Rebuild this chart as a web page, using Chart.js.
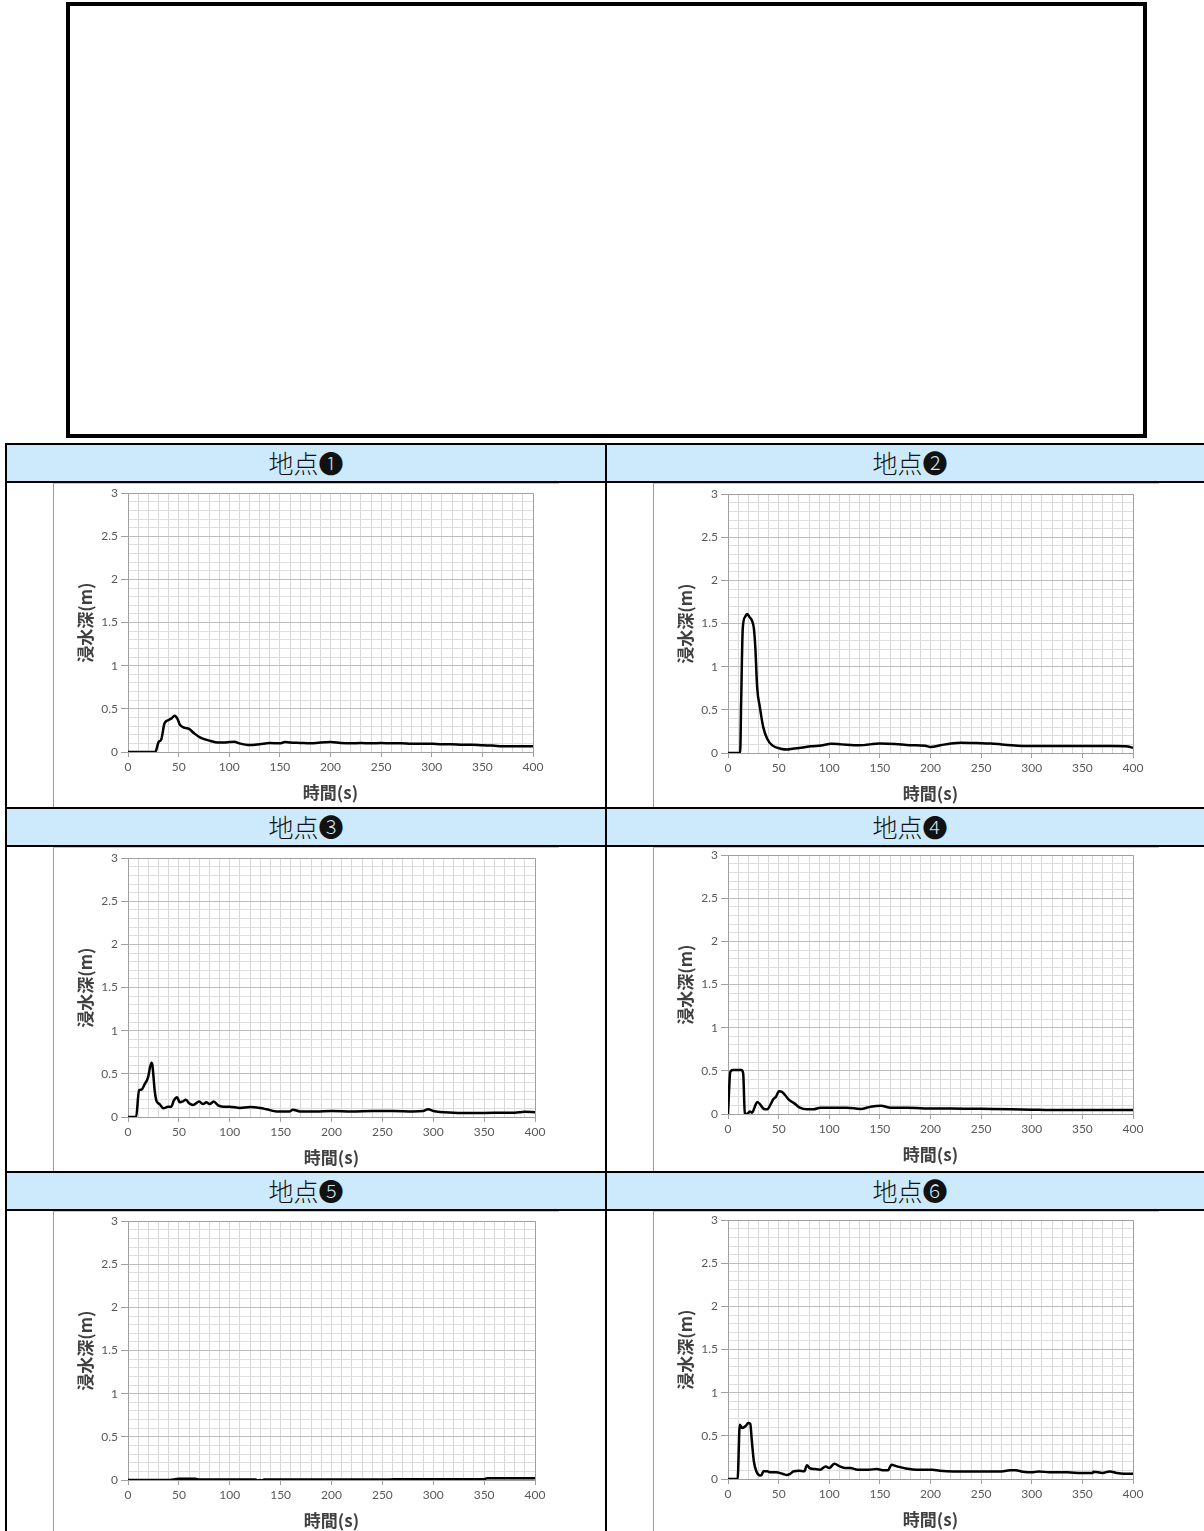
<!DOCTYPE html>
<html lang="ja">
<head>
<meta charset="utf-8">
<script src="https://cdn.jsdelivr.net/npm/chart.js@4.4.0/dist/chart.umd.min.js"></script>
<style>
body{margin:0;background:#fff;width:1204px;height:1531px;overflow:hidden;position:relative;font-family:"Noto Sans CJK JP",sans-serif}
.box{position:absolute;left:66px;top:2px;width:1081px;height:436px;border:4px solid #000;box-sizing:border-box}
.hd{position:absolute;height:40px;background:#cdeafc;border:2px solid #000;box-sizing:border-box;text-align:center;font-size:25px;font-weight:300;line-height:35px;color:#111}
.cell{position:absolute;height:328px;border:2px solid #000;box-sizing:border-box;background:#fff}
.pic{position:absolute;width:506px;height:325px;border-left:1px solid #9a9a9a;border-top:1px solid #c8c8c8;box-sizing:border-box}
canvas{position:absolute}
</style>
</head>
<body>
<div class="box"></div>
<div id="table"></div>

<script>
// 地点ごとの浸水深 (time s / depth m)
const pointNames = ["地点❶", "地点❷", "地点❸", "地点❹", "地点❺", "地点❻"];

const p1Time = [0,27,30,33,36,40,43,46,49,51,56,60,65,71,81,89,95,100,105,110,120,130,140,150,155,160,170,180,190,200,210,220,230,240,250,260,270,280,290,300,310,320,330,340,350,360,370,380,390,400];
const p1Depth = [0,0,0.11,0.15,0.33,0.37,0.39,0.42,0.38,0.32,0.28,0.27,0.22,0.17,0.13,0.11,0.11,0.115,0.12,0.10,0.08,0.09,0.105,0.10,0.115,0.11,0.105,0.10,0.11,0.115,0.105,0.10,0.105,0.10,0.105,0.10,0.10,0.095,0.095,0.097,0.09,0.09,0.085,0.085,0.077,0.075,0.066,0.066,0.066,0.066];

const p2Time = [0,12,13,14.6,17,19,21,23.8,25.5,27,28.8,31.5,34.8,38.7,43.7,52,58.6,63.6,72,82,92,102,112,130,150,165,180,195,200,210,220,230,245,260,280,300,320,350,380,395,400];
const p2Depth = [0,0,0.6,1.45,1.58,1.61,1.58,1.53,1.45,1.22,0.76,0.53,0.30,0.165,0.088,0.05,0.04,0.05,0.06,0.077,0.088,0.107,0.10,0.09,0.11,0.105,0.09,0.085,0.07,0.09,0.11,0.12,0.115,0.11,0.09,0.08,0.08,0.08,0.08,0.075,0.06];

const p3Time = [0,8,10.8,13,16.4,19.7,23,24,26.2,27.9,31,35,39.3,42.6,45,48.2,50.8,54,56.7,60,64,70,73.8,77,80.3,84.3,88.5,93.4,100,110,120,130,136,146,159,162,169,185,200,220,240,260,280,290,295,300,320,340,360,380,390,400];
const p3Depth = [0,0,0.31,0.315,0.38,0.46,0.63,0.6,0.31,0.19,0.15,0.10,0.12,0.12,0.19,0.23,0.17,0.18,0.2,0.16,0.14,0.18,0.15,0.17,0.15,0.18,0.135,0.12,0.12,0.104,0.115,0.104,0.09,0.065,0.065,0.085,0.065,0.065,0.07,0.065,0.07,0.07,0.065,0.07,0.09,0.07,0.05,0.045,0.05,0.05,0.06,0.055];

const p4Time = [0,2.3,5,13.2,15,16.6,19,21.5,23.8,26.5,28.8,31.5,35.4,38.7,42.4,44.7,47.4,50.3,53,56.3,60.6,65.6,71,78,84.4,91,101,117.5,131,141,151,160.6,177,194,220,250,280,300,330,360,400];
const p4Depth = [0,0.49,0.51,0.51,0.47,0.01,0,0.03,0.015,0.085,0.14,0.115,0.058,0.054,0.12,0.17,0.2,0.265,0.26,0.22,0.16,0.123,0.073,0.054,0.054,0.073,0.073,0.073,0.058,0.085,0.096,0.073,0.073,0.065,0.065,0.06,0.055,0.05,0.045,0.045,0.045];

const p5Time = [0,42,46,50,60,66,70,100,125,127,132,134,160,200,257,260,300,350,353,400];
const p5Depth = [0,0,0.01,0.015,0.015,0.015,0.005,0.005,0.005,-0.005,-0.005,0.005,0.005,0.005,0.005,0.01,0.01,0.01,0.02,0.02];

const p6Time = [0,9.5,11.6,14,17.5,20,22,23.5,25.6,28,31.6,33.3,35,38.6,42,47.4,54.4,58,61.4,65,70,75.4,78,80.7,86,91,96.5,100,105,110.5,115.8,121,128,138.6,147,154,158,161.4,166.7,177,186,202,209,223,247,268,279,284,291,300,307,317.5,335,349,360,361,370,377,384,391,400];
const p6Depth = [0,0,0.63,0.59,0.615,0.65,0.64,0.45,0.2,0.09,0.04,0.05,0.09,0.09,0.077,0.077,0.058,0.046,0.06,0.09,0.096,0.09,0.16,0.127,0.115,0.108,0.146,0.127,0.177,0.146,0.127,0.127,0.108,0.108,0.115,0.1,0.1,0.165,0.146,0.12,0.108,0.108,0.096,0.088,0.088,0.088,0.1,0.1,0.085,0.077,0.088,0.077,0.077,0.07,0.07,0.085,0.07,0.088,0.07,0.062,0.062];

const allTimes = [p1Time, p2Time, p3Time, p4Time, p5Time, p6Time];
const allDepths = [p1Depth, p2Depth, p3Depth, p4Depth, p5Depth, p6Depth];

const xTitle = "時間(s)";
const yTitle = "浸水深(m)";

// layout of the table (px)
const rowTops = [443, 807, 1171];
const colLefts = [5, 605];
const colWidths = [602, 610];
const picLefts = [53, 653];
const plotTops = [491, 492, 856, 853, 1219, 1218];
const plotWidths = [405, 405, 407, 405, 407, 405];

const table = document.getElementById("table");

for (var i = 0; i < 6; i++) {
	var r = Math.floor(i / 2);
	var c = i % 2;

	var hd = document.createElement("div");
	hd.className = "hd";
	hd.style.left = colLefts[c] + "px";
	hd.style.top = rowTops[r] + "px";
	hd.style.width = colWidths[c] + "px";
	hd.textContent = pointNames[i];
	table.appendChild(hd);

	var cell = document.createElement("div");
	cell.className = "cell";
	cell.style.left = colLefts[c] + "px";
	cell.style.top = (rowTops[r] + 38) + "px";
	cell.style.width = colWidths[c] + "px";
	table.appendChild(cell);

	var pic = document.createElement("div");
	pic.className = "pic";
	pic.style.left = picLefts[c] + "px";
	pic.style.top = (rowTops[r] + 40) + "px";
	table.appendChild(pic);

	var cv = document.createElement("canvas");
	cv.width = 506;
	cv.height = 325;
	cv.style.left = picLefts[c] + "px";
	cv.style.top = (plotTops[i] - 8) + "px";
	table.appendChild(cv);

	drawChart(cv, allTimes[i], allDepths[i], 506 - 75 - plotWidths[i]);
}

function isHalf(v) {
	return Math.abs(v * 2 - Math.round(v * 2)) < 1e-6;
}

function drawChart(cv, times, depths, padRight) {
	var pts = [];
	for (var k = 0; k < times.length; k++) {
		pts.push({x: times[k], y: depths[k]});
	}

	new Chart(cv.getContext("2d"), {
		type: "line",
		data: {
			datasets: [{
				data: pts,
				borderColor: "#000",
				borderWidth: 2.5,
				pointRadius: 0,
				cubicInterpolationMode: "monotone",
				fill: false
			}]
		},
		options: {
			responsive: false,
			animation: false,
			devicePixelRatio: 1,
			layout: {padding: {left: 0, top: 8, right: padRight, bottom: 0}},
			plugins: {legend: {display: false}, tooltip: {enabled: false}},
			scales: {
				x: {
					type: "linear",
					min: 0,
					max: 400,
					afterFit: function (s) { s.height = 56; },
					border: {color: "#a0a0a0"},
					grid: {
						color: function (ctx) {
							var v = ctx.tick ? ctx.tick.value : 0;
							if (v === 0 || v === 400) return "#a0a0a0";
							return "#d8d8d8";
						},
						tickColor: function (ctx) {
							return (ctx.tick && ctx.tick.value % 50 === 0) ? "#a0a0a0" : "rgba(0,0,0,0)";
						},
						tickLength: 5
					},
					ticks: {
						stepSize: 10,
						autoSkip: false,
						maxRotation: 0,
						color: "#595959",
						font: {family: "Lato", size: 12},
						padding: 3,
						callback: function (v) { return v % 50 === 0 ? v : ""; }
					},
					title: {
						display: true,
						text: xTitle,
						color: "#404040",
						font: {family: "Noto Sans CJK JP", size: 17, weight: "bold"},
						padding: {top: 0, bottom: 5}
					}
				},
				y: {
					type: "linear",
					min: 0,
					max: 3,
					afterFit: function (s) { s.width = 75; },
					border: {color: "#a0a0a0"},
					grid: {
						color: function (ctx) {
							var v = ctx.tick ? ctx.tick.value : 0;
							if (v === 0 || v === 3) return "#a0a0a0";
							return isHalf(v) ? "#bdbdbd" : "#dedede";
						},
						tickColor: function (ctx) {
							return (ctx.tick && isHalf(ctx.tick.value)) ? "#a0a0a0" : "rgba(0,0,0,0)";
						},
						tickLength: 7
					},
					ticks: {
						stepSize: 0.1,
						autoSkip: false,
						color: "#595959",
						font: {family: "Lato", size: 12},
						padding: 3,
						callback: function (v) { return isHalf(v) ? v : ""; }
					},
					title: {
						display: true,
						text: yTitle,
						color: "#404040",
						font: {family: "Noto Sans CJK JP", size: 17, weight: "bold"},
						padding: {top: 22, bottom: 0}
					}
				}
			}
		}
	});
}
</script>
</body>
</html>
